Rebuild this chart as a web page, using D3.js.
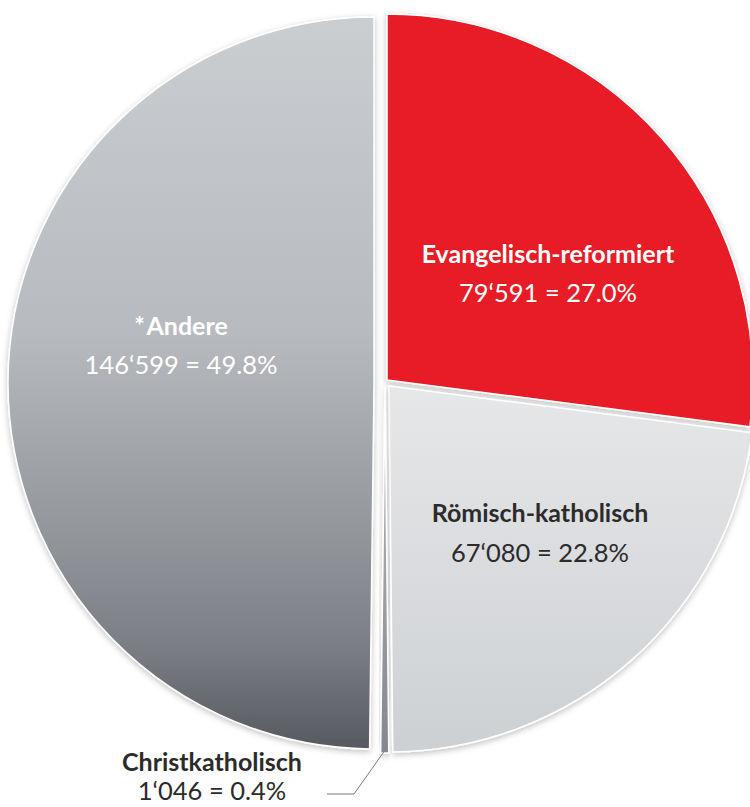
<!DOCTYPE html>
<html>
<head>
<meta charset="utf-8">
<script src="https://cdn.jsdelivr.net/npm/d3@7"></script>
<style>
  html, body { margin: 0; padding: 0; background: #ffffff; }
  svg { display: block; }
  text { font-family: Lato, "Open Sans", sans-serif; }
</style>
</head>
<body>
<svg id="chart" width="750" height="807"></svg>
<script>
// ---- data ----
const categories = ["Evangelisch-reformiert", "Römisch-katholisch", "Christkatholisch", "*Andere"];
const values = [79591, 67080, 1046, 146599];

// ---- layout / style (not data) ----
const W = 750, H = 807;
const cx = 385, cy = 383, R = 366;
const fills = ["#e81d25", "url(#gRoem)", "url(#gChrist)", "url(#gAndere)"];
const explode = [[2, -3], [4, 3], [0, 4], [-11, 0]];
const labelPos = [[548, 263], [540, 522], [212, 771], [181, 335]];
const valueDy = [39, 40, 29, 39];
const labelColor = ["#ffffff", "#2b2b2b", "#2b2b2b", "#ffffff"];

const svg = d3.select("#chart");
const defs = svg.append("defs");

// gradients in the pie group's coordinate system (origin = pie centre)
function vGrad(id, y0, y1, stops) {
  const g = defs.append("linearGradient").attr("id", id)
    .attr("gradientUnits", "userSpaceOnUse")
    .attr("x1", 0).attr("x2", 0).attr("y1", y0).attr("y2", y1);
  stops.forEach(([o, c]) => g.append("stop").attr("offset", o).attr("stop-color", c));
}
vGrad("gAndere", -R, R, [[0, "#cbced1"], [0.43, "#b7babe"], [0.73, "#8f9297"], [0.86, "#7b7e84"], [1, "#56595f"]]);
vGrad("gRoem", 0, R, [[0, "#e6e7e9"], [1, "#cdd0d3"]]);
vGrad("gChrist", 0, R, [[0, "#b9bcc0"], [1, "#84878d"]]);

const f = defs.append("filter").attr("id", "shadow")
  .attr("x", "-10%").attr("y", "-10%").attr("width", "120%").attr("height", "120%");
f.append("feDropShadow").attr("dx", 0).attr("dy", 2).attr("stdDeviation", 3)
  .attr("flood-color", "#000").attr("flood-opacity", 0.25);

const total = d3.sum(values);
const pie = d3.pie().sort(null).value(d => d);
const arcs = pie(values);
const arc = d3.arc().innerRadius(0).outerRadius(R);

const g = svg.append("g").attr("transform", `translate(${cx},${cy})`);
g.selectAll("path.slice")
  .data(arcs)
  .join("path")
  .attr("class", "slice")
  .attr("transform", (d, i) => `translate(${explode[i][0]},${explode[i][1]})`)
  .attr("d", arc)
  .attr("fill", (d, i) => fills[i])
  .attr("stroke", "#ffffff")
  .attr("stroke-width", 1.5)
  .attr("filter", "url(#shadow)");

// leader line for the tiny slice
const christ = arcs[2];
const ang = (christ.startAngle + christ.endAngle) / 2;
const px = cx + explode[2][0] + Math.sin(ang) * (R - 1);
const py = cy + explode[2][1] - Math.cos(ang) * (R - 1);
svg.append("polyline")
  .attr("points", [[327, 794], [354, 794], [px - 1, py]].map(p => p.join(",")).join(" "))
  .attr("fill", "none")
  .attr("stroke", "#7a7a7a")
  .attr("stroke-width", 1);

// labels
const loc = d3.formatLocale({ decimal: ".", thousands: "‘", grouping: [3], currency: ["", ""] });
const fmtN = loc.format(",d");
const fmtP = d3.format(".1f");

const lab = svg.selectAll("g.lab").data(categories).join("g").attr("class", "lab");
lab.append("text")
  .attr("x", (d, i) => labelPos[i][0])
  .attr("y", (d, i) => labelPos[i][1])
  .attr("text-anchor", "middle")
  .attr("font-size", 25)
  .attr("font-weight", "bold")
  .attr("fill", (d, i) => labelColor[i])
  .text(d => d.replace(/^\*/, "*\u200a"));
lab.append("text")
  .attr("x", (d, i) => labelPos[i][0])
  .attr("y", (d, i) => labelPos[i][1] + valueDy[i])
  .attr("text-anchor", "middle")
  .attr("font-size", 25.5)
  .attr("fill", (d, i) => labelColor[i])
  .text((d, i) => `${fmtN(values[i])} = ${fmtP(values[i] / total * 100)}%`);
</script>
</body>
</html>
